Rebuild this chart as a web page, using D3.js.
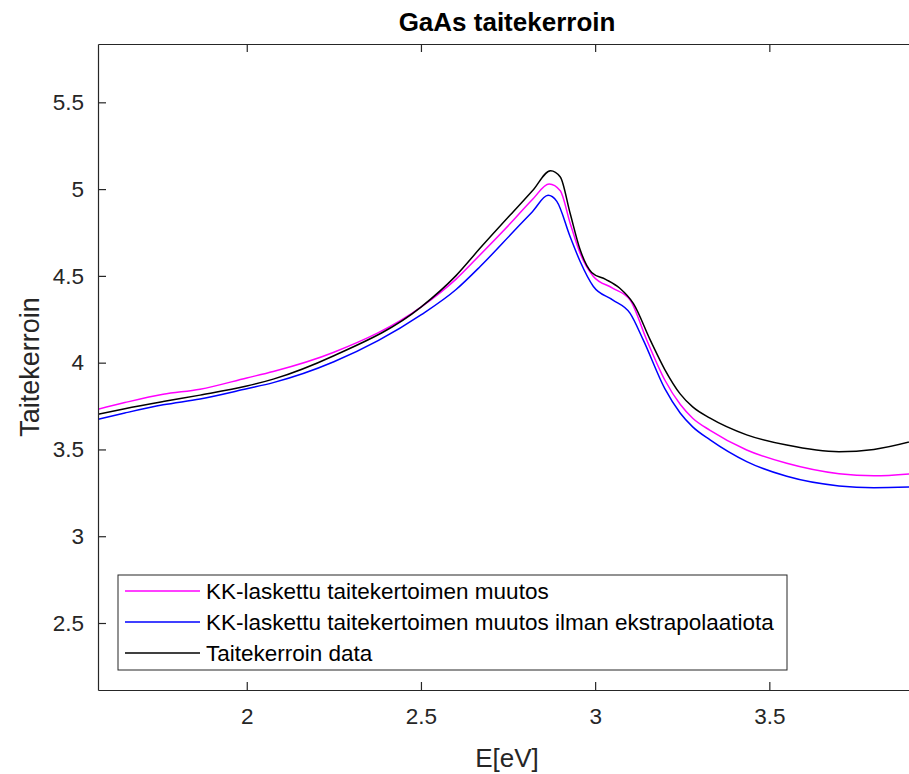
<!DOCTYPE html>
<html>
<head>
<meta charset="utf-8">
<script src="https://cdn.jsdelivr.net/npm/d3@7"></script>
<style>
  body { margin: 0; background: #fff; }
  svg { font-family: "Liberation Sans", Arial, sans-serif; }
</style>
</head>
<body>
<div id="container"></div>
<script>
// data
var xTicks = [2, 2.5, 3, 3.5];
var yTicks = [2.5, 3, 3.5, 4, 4.5, 5, 5.5];

var eKK = [1.573, 1.65, 1.76, 1.866, 2.0, 2.076, 2.25, 2.5, 2.6, 2.67, 2.765, 2.82, 2.868, 2.9, 2.928, 2.957, 2.995, 3.05, 3.1, 3.148, 3.2, 3.244, 3.28, 3.33, 3.435, 3.55, 3.7, 3.8, 3.921];
var nKK = [3.732, 3.77, 3.818, 3.847, 3.912, 3.949, 4.06, 4.32, 4.48, 4.622, 4.82, 4.94, 5.029, 4.99, 4.805, 4.63, 4.497, 4.43, 4.362, 4.131, 3.9, 3.76, 3.68, 3.61, 3.497, 3.42, 3.36, 3.348, 3.362];

var eNoExt = [1.573, 1.65, 1.76, 1.866, 2.0, 2.076, 2.25, 2.5, 2.6, 2.67, 2.765, 2.82, 2.865, 2.89, 2.928, 2.957, 2.995, 3.05, 3.1, 3.138, 3.2, 3.244, 3.28, 3.33, 3.435, 3.55, 3.7, 3.8, 3.921];
var nNoExt = [3.674, 3.71, 3.757, 3.791, 3.85, 3.885, 4.005, 4.275, 4.42, 4.554, 4.754, 4.87, 4.964, 4.929, 4.727, 4.583, 4.439, 4.362, 4.285, 4.131, 3.85, 3.71, 3.63, 3.555, 3.43, 3.345, 3.29, 3.28, 3.284];

var eData = [1.573, 1.65, 1.76, 1.866, 2.0, 2.076, 2.25, 2.5, 2.6, 2.67, 2.765, 2.82, 2.872, 2.9, 2.928, 2.957, 2.99, 3.03, 3.07, 3.11, 3.158, 3.2, 3.244, 3.28, 3.33, 3.435, 3.55, 3.7, 3.8, 3.921];
var nData = [3.703, 3.735, 3.776, 3.813, 3.865, 3.905, 4.04, 4.32, 4.50, 4.66, 4.87, 4.99, 5.106, 5.07, 4.862, 4.65, 4.52, 4.48, 4.43, 4.34, 4.131, 3.96, 3.82, 3.745, 3.68, 3.584, 3.525, 3.487, 3.50, 3.553];

var seriesNames = ["KK-laskettu taitekertoimen muutos",
                   "KK-laskettu taitekertoimen muutos ilman ekstrapolaatiota",
                   "Taitekerroin data"];
var seriesColors = ["#ff00ff", "#0000ff", "#000000"];

function load() {

	// plot box (right side runs past the window edge like the reference)
	var margin = { top: 44, left: 98 },
		width = 916 - margin.left,
		height = 690 - margin.top;

	var svg = d3.select("#container")
		.append("svg")
		.attr("width", 909)
		.attr("height", 774);

	var g = svg.append("g")
		.attr("transform", "translate(" + margin.left + "," + margin.top + ")");

	var xScale = d3.scaleLinear().domain([1.573, 3.921]).range([0, width]);
	var yScale = d3.scaleLinear().domain([2.114, 5.836]).range([height, 0]);

	g.append("clipPath").attr("id", "clip")
		.append("rect").attr("width", width).attr("height", height);

	var line = d3.line()
		.x(function(d) { return xScale(d[0]); })
		.y(function(d) { return yScale(d[1]); })
		.curve(d3.curveMonotoneX);

	var series = [d3.zip(eKK, nKK), d3.zip(eNoExt, nNoExt), d3.zip(eData, nData)];

	g.append("g").attr("clip-path", "url(#clip)")
		.selectAll("path")
		.data(series)
		.enter().append("path")
			.attr("d", line)
			.attr("fill", "none")
			.attr("stroke", function(d, i) { return seriesColors[i]; })
			.attr("stroke-width", 1.5);

	// axes, ticks pointing inward
	g.append("g")
		.attr("transform", "translate(0," + height + ")")
		.call(d3.axisBottom(xScale).tickValues(xTicks).tickFormat(d3.format("")).tickSizeInner(-8).tickSizeOuter(0).tickPadding(18));

	g.append("g")
		.call(d3.axisTop(xScale).tickValues(xTicks).tickFormat("").tickSizeInner(-8).tickSizeOuter(0));

	g.append("g")
		.call(d3.axisLeft(yScale).tickValues(yTicks).tickFormat(d3.format("")).tickSizeInner(-8).tickSizeOuter(0).tickPadding(14));

	g.selectAll(".domain, .tick line").attr("stroke", "#262626").attr("stroke-width", 1.2);
	g.selectAll(".tick text").attr("fill", "#262626").style("font-size", "22.5px");

	// title and labels
	svg.append("text")
		.attr("x", margin.left + width / 2).attr("y", 31)
		.attr("text-anchor", "middle")
		.style("font-size", "26px").style("font-weight", "bold")
		.attr("fill", "#000")
		.text("GaAs taitekerroin");

	svg.append("text")
		.attr("x", margin.left + width / 2).attr("y", 767)
		.attr("text-anchor", "middle")
		.style("font-size", "26px").attr("fill", "#262626")
		.text("E[eV]");

	svg.append("text")
		.attr("transform", "translate(39," + (margin.top + height / 2) + ") rotate(-90)")
		.attr("text-anchor", "middle")
		.style("font-size", "27px").attr("fill", "#262626")
		.text("Taitekerroin");

	// legend
	var legend = svg.append("g").attr("transform", "translate(118,575)");
	legend.append("rect")
		.attr("width", 669).attr("height", 95)
		.attr("fill", "#fff").attr("stroke", "#262626").attr("stroke-width", 1);

	var rows = legend.selectAll(".row")
		.data(seriesNames)
		.enter().append("g")
			.attr("transform", function(d, i) { return "translate(0," + (16 + i * 31) + ")"; });

	rows.append("line")
		.attr("x1", 7).attr("x2", 82)
		.attr("stroke", function(d, i) { return seriesColors[i]; })
		.attr("stroke-width", 1.5);

	rows.append("text")
		.attr("x", 88).attr("dy", "0.35em")
		.style("font-size", "22.5px").attr("fill", "#000")
		.text(function(d) { return d; });
}
load();
</script>
</body>
</html>
